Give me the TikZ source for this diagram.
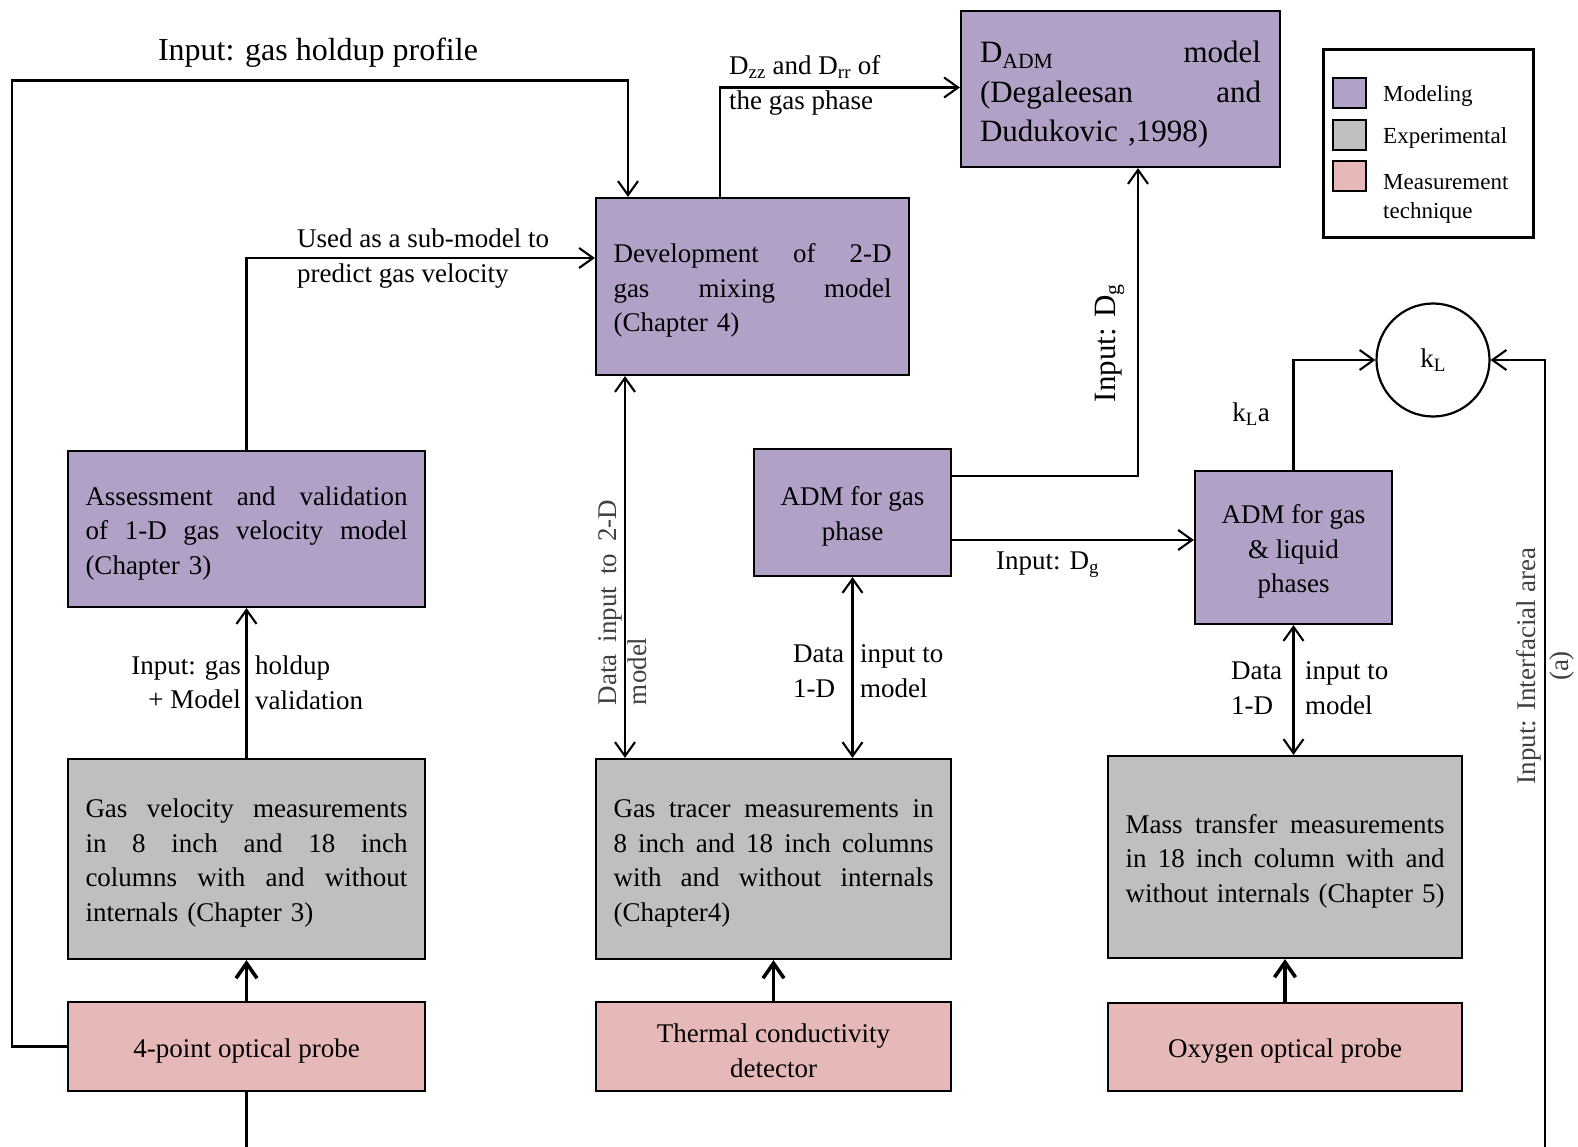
\documentclass[tikz,border=0pt]{standalone}
\usepackage{fontspec}
\setmainfont{Liberation Serif}
\usetikzlibrary{arrows.meta}
\definecolor{modfill}{RGB}{177,161,199}
\definecolor{expfill}{RGB}{191,191,191}
\definecolor{mesfill}{RGB}{230,184,183}
\definecolor{lbgray}{RGB}{64,64,64}
\newcommand{\jl}[2]{\leavevmode\hbox to #1{\spaceskip=0.25em plus 1fil\relax #2}}
\newcommand{\up}[1]{\rule{0pt}{#1}}
\newcommand{\bodyfont}{\fontsize{27}{34.5}\selectfont}
\begin{document}
\begin{tikzpicture}[x=1pt,y=-1pt,
  box/.style={draw=black, line width=2.2pt, inner sep=0pt, font=\bodyfont},
  modbox/.style={box, fill=modfill},
  expbox/.style={box, fill=expfill},
  mesbox/.style={box, fill=mesfill},
  conn/.style={line width=2.1pt},
  arr/.style={conn, -{Straight Barb[length=14pt,width=20pt]}},
  darr/.style={conn, {Straight Barb[length=14pt,width=20pt]}-{Straight Barb[length=14pt,width=20pt]}},
  thickarr/.style={line width=3.6pt, -{Straight Barb[length=15pt,width=21pt]}},
  lbl/.style={inner sep=0pt, font=\bodyfont},
  swatch/.style={draw=black, line width=2.2pt, minimum width=33pt, minimum height=30pt, inner sep=0pt},
  legtext/.style={inner sep=0pt, font=\fontsize{23}{29}\selectfont},
]
\useasboundingbox[fill=white] (0,0) rectangle (1578,1147);

% ---- boxes ----
\node[modbox, minimum width=319pt, minimum height=156pt, text width=281pt, align=left,
      font=\fontsize{31}{39.5}\selectfont] (dadm) at (1120.5,89)
  {\jl{281pt}{\up{33pt}D\textsubscript{ADM} model}\\\jl{281pt}{(Degaleesan and}\\Dudukovic ,1998)};

\node[modbox, minimum width=313pt, minimum height=177pt, text width=278pt, align=left] (dev) at (752.5,286.5)
  {\jl{278pt}{\up{27pt}Development of 2-D}\\\jl{278pt}{gas mixing model}\\(Chapter 4)};

\node[modbox, minimum width=357pt, minimum height=156pt, text width=322pt, align=left] (assess) at (246.5,529)
  {\jl{322pt}{\up{27pt}Assessment and validation}\\\jl{322pt}{of 1-D gas velocity model}\\(Chapter 3)};

\node[modbox, minimum width=197pt, minimum height=127pt, align=center] (admg) at (852.5,512.5)
  {\up{27pt}ADM for gas\\phase};

\node[modbox, minimum width=197pt, minimum height=153pt, align=center] (admgl) at (1293.5,547.5)
  {\up{27pt}ADM for gas\\\& liquid\\phases};

\node[draw=black, circle, line width=2.2pt, minimum size=113pt, inner sep=0pt, font=\bodyfont] (kl) at (1433,360)
  {k\textsubscript{L}};

\node[expbox, minimum width=357pt, minimum height=200pt, text width=322pt, align=left] (gasvel) at (246.5,859)
  {\jl{322pt}{\up{27pt}Gas velocity measurements}\\\jl{322pt}{in 8 inch and 18 inch}\\\jl{322pt}{columns with and without}\\internals (Chapter 3)};

\node[expbox, minimum width=355pt, minimum height=200pt, text width=320pt, align=left] (tracer) at (773.5,859)
  {\jl{320pt}{\up{27pt}Gas tracer measurements in}\\\jl{320pt}{8 inch and 18 inch columns}\\\jl{320pt}{with and without internals}\\(Chapter4)};

\node[expbox, minimum width=354pt, minimum height=202pt, text width=319pt, align=left] (mass) at (1285,857)
  {\jl{319pt}{\up{27pt}Mass transfer measurements}\\\jl{319pt}{in 18 inch column with and}\\\jl{319pt}{without internals (Chapter 5)}};

\node[mesbox, minimum width=357pt, minimum height=89pt] (probe4) at (246.5,1046.5) {\up{27pt}4-point optical probe};
\node[mesbox, minimum width=355pt, minimum height=89pt, align=center] (tcd) at (773.5,1046.5) {\up{27pt}Thermal conductivity\\detector};
\node[mesbox, minimum width=354pt, minimum height=88pt] (oxy) at (1285,1047) {\up{27pt}Oxygen optical probe};

% ---- legend ----
\node[draw=black, line width=3pt, minimum width=210pt, minimum height=188pt, inner sep=0pt] (legend) at (1428,144) {};
\node[swatch, fill=modfill] (swmod) at (1349.5,93) {};
\node[swatch, fill=expfill] (swexp) at (1349.5,135) {};
\node[swatch, fill=mesfill] (swmes) at (1349.5,176) {};
\node[legtext, anchor=west] (tmod) at (1383,96) {Modeling};
\node[legtext, anchor=west] (texp) at (1383,138) {Experimental};
\node[legtext, anchor=west, align=left] (tmes) at (1383,198.5) {Measurement\\technique};

% ---- free ends ----
\coordinate (pbot) at (246.5,1147);
\coordinate (rbot) at (1545,1147);

% ---- connectors ----
\draw[thickarr] (probe4.north) -- (gasvel.south);
\draw[thickarr] (tcd.north) -- (tracer.south);
\draw[thickarr] (oxy.north) -- (mass.south);
\draw[conn] (probe4.south) -- (pbot);

\draw[arr] (gasvel.north) -- (assess.south);
\draw[arr] (assess.north) -- (assess.north |- 0,258) -- (dev.west |- 0,258);
\draw[arr] (probe4.west) -| (12,80.5) -| (dev.north -| 628,0);
\draw[arr] (dev.north -| 720,0) -- (720,87.5) -- (dadm.west |- 0,87.5);
\draw[darr] (dev.south -| 625,0) -- (tracer.north -| 625,0);
\draw[darr] (admg.south) -- (tracer.north -| admg.south);
\draw[arr] (admg.east |- 0,476) -- (1138,476) -- (dadm.south -| 1138,0);
\draw[arr] (admg.east |- 0,540) -- (admgl.west |- 0,540);
\draw[arr] (admgl.north) |- (kl.west);
\draw[darr] (admgl.south) -- (mass.north -| admgl.south);
\draw[arr] (rbot) |- (kl.east);

% ---- labels ----
\node[lbl, font=\fontsize{32}{38}\selectfont] (lhold) at (318,53) {Input: gas holdup profile};
\node[lbl, anchor=west, align=left] (lsub) at (297,258.5) {Used as a sub-model to\\predict gas velocity};
\node[lbl, anchor=west, align=left] (ldzz) at (729,85.5) {D\textsubscript{zz} and D\textsubscript{rr} of\\the gas phase};
\node[lbl, anchor=east, align=right] (lin1) at (241,683) {Input: gas\\+ Model};
\node[lbl, anchor=west, align=left] (lin2) at (255,683) {holdup\\validation};
\node[lbl, anchor=west, align=left] (ld1a) at (793,671) {Data\\1-D};
\node[lbl, anchor=west, align=left] (ld1b) at (860,671) {input to\\model};
\node[lbl, anchor=west, align=left] (ld2a) at (1231,688) {Data\\1-D};
\node[lbl, anchor=west, align=left] (ld2b) at (1305,688) {input to\\model};
\node[lbl, anchor=west] (ldg) at (996,565) {Input: D\textsubscript{g}};
\node[lbl, rotate=90, font=\fontsize{31}{38}\selectfont] (ldgv) at (1110,343) {Input: D\textsubscript{g}};
\node[lbl] (lkla) at (1251,414) {k\textsubscript{L}a};
\node[lbl, rotate=90, text width=205pt, align=left, text=lbgray, font=\fontsize{27}{30}\selectfont] (l2d) at (623,602.5)
  {\jl{205pt}{Data input to 2-D}\\model};
\node[lbl, rotate=90, align=center, text=lbgray, font=\fontsize{27}{33}\selectfont] (lia) at (1545,666)
  {Input: Interfacial area\\(a)};
\end{tikzpicture}
\end{document}
